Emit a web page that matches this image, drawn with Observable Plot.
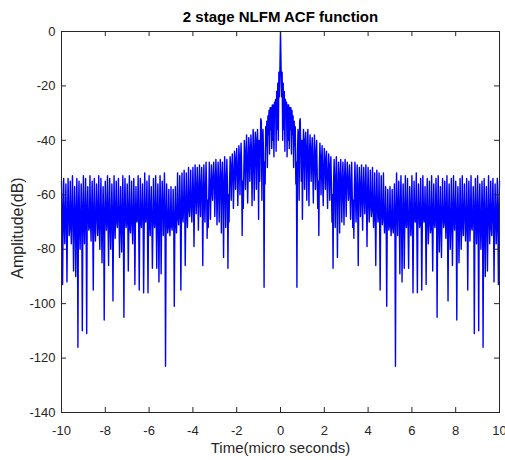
<!DOCTYPE html>
<html><head><meta charset="utf-8">
<script src="https://cdn.jsdelivr.net/npm/d3@7"></script>
<script src="https://cdn.jsdelivr.net/npm/@observablehq/plot@0.6"></script>
<style>
html,body{margin:0;padding:0;background:#fff;}
#chart svg{display:block;}
</style></head><body><div id="chart"></div>
<script>
const title = "2 stage NLFM ACF function";
const xLabel = "Time(micro seconds)";
const yLabel = "Amplitude(dB)";
const xTicks = [-10, -8, -6, -4, -2, 0, 2, 4, 6, 8, 10];
const yTicks = [-140, -120, -100, -80, -60, -40, -20, 0];
// sampling step of the lag axis (micro seconds); the ACF magnitude is symmetric in lag
const timeStep = 0.025;
// ACF amplitude (dB) for lags 0, 0.025, ..., 10 us (10 values per row)
const ampHalf = [
  0, -13, -24, -15, -40, -19, -36, -22, -44, -25,
  -30, -26, -46, -27, -40, -27, -43, -28, -36, -28,
  -45, -29, -38, -31, -50, -33, -42, -35, -56, -48,
  -94, -45, -36, -40, -62, -33, -32, -44, -55, -40,
  -69, -45, -36, -44, -58, -40, -37, -48, -62, -42,
  -36, -50, -64, -44, -38, -47, -55, -43, -39, -52,
  -63, -46, -38, -49, -58, -44, -40, -52, -65, -55,
  -75, -50, -41, -48, -60, -47, -42, -54, -64, -50,
  -43, -49, -58, -47, -44, -55, -65, -52, -45, -51,
  -62, -50, -46, -56, -70, -60, -87, -55, -47, -58,
  -72, -54, -46, -60, -83, -57, -48, -56, -74, -53,
  -47, -58, -70, -55, -48, -60, -71, -54, -47, -57,
  -68, -55, -48, -54, -62, -58, -49, -59, -69, -56,
  -48, -60, -72, -62, -76, -57, -48, -59, -70, -60,
  -49, -63, -86, -58, -50, -57, -68, -59, -49, -62,
  -73, -58, -50, -61, -67, -57, -49, -63, -79, -60,
  -50, -62, -70, -64, -51, -61, -68, -65, -50, -63,
  -72, -66, -52, -67, -86, -63, -51, -64, -70, -67,
  -52, -69, -95, -65, -53, -66, -71, -68, -52, -67,
  -74, -69, -57, -71, -101, -70, -58, -69, -73, -71,
  -57, -70, -75, -69, -58, -72, -74, -68, -56, -73,
  -123, -65, -52, -66, -75, -64, -55, -67, -89, -65,
  -53, -67, -92, -70, -56, -65, -87, -71, -53, -68,
  -72, -66, -54, -72, -87, -69, -57, -64, -75, -70,
  -53, -68, -96, -71, -55, -66, -70, -69, -52, -73,
  -96, -67, -56, -65, -72, -70, -54, -68, -95, -72,
  -53, -66, -70, -69, -57, -71, -93, -65, -54, -68,
  -78, -70, -55, -67, -74, -72, -53, -69, -88, -66,
  -56, -70, -72, -68, -54, -65, -105, -71, -53, -67,
  -81, -69, -57, -72, -83, -66, -54, -68, -72, -70,
  -55, -65, -76, -69, -53, -71, -99, -67, -56, -68,
  -80, -72, -54, -66, -86, -70, -53, -69, -73, -65,
  -55, -71, -106, -67, -57, -68, -85, -70, -54, -66,
  -80, -72, -53, -69, -75, -65, -56, -68, -77, -71,
  -54, -67, -95, -70, -55, -66, -77, -69, -53, -72,
  -73, -68, -57, -65, -111, -71, -54, -67, -78, -69,
  -53, -70, -110, -66, -56, -68, -80, -72, -55, -65,
  -116, -69, -54, -71, -90, -67, -57, -70, -88, -68,
  -53, -66, -78, -69, -55, -72, -75, -65, -54, -68,
  -92, -71, -56, -67, -78, -70, -54, -69, -93, -66,
  -55
];

const data = [];
for (let i = ampHalf.length - 1; i >= 1; i--) data.push({t: -i * timeStep, a: ampHalf[i]});
for (let i = 0; i < ampHalf.length; i++) data.push({t: i * timeStep, a: ampHalf[i]});

const W = 505, H = 460, mL = 61, mR = 6, mT = 31, mB = 48;
const fh = H - mT - mB, fw = W - mL - mR;
const tickLen = 5;
const axisColor = "#262626";
const font = "'Liberation Sans', Arial, Helvetica, sans-serif";
const fmt = d => String(d);

const chart = Plot.plot({
  width: W, height: H,
  marginLeft: mL, marginRight: mR, marginTop: mT, marginBottom: mB,
  style: {fontFamily: font, fontSize: "13px", background: "#fff", color: axisColor},
  x: {domain: [-10, 10]},
  y: {domain: [-140, 0]},
  marks: [
    Plot.line(data, {x: "t", y: "a", stroke: "#0000ff", strokeWidth: 1.4}),
    Plot.tickX(xTicks, {x: d => d, insetTop: fh - tickLen, stroke: axisColor}),
    Plot.tickX(xTicks, {x: d => d, insetBottom: fh - tickLen, stroke: axisColor}),
    Plot.tickY(yTicks, {y: d => d, insetRight: fw - tickLen, stroke: axisColor}),
    Plot.tickY(yTicks, {y: d => d, insetLeft: fw - tickLen, stroke: axisColor}),
    Plot.frame({stroke: axisColor}),
    Plot.axisX(xTicks, {tickSize: 0, tickPadding: 13, tickFormat: fmt, label: null, fill: axisColor}),
    Plot.axisY(yTicks, {tickSize: 0, tickPadding: 6, tickFormat: fmt, label: null, fill: axisColor}),
    Plot.text([title], {text: d => d, frameAnchor: "top", dy: -14, lineAnchor: "middle", fontWeight: "bold", fontSize: 15, fill: "#000"}),
    Plot.text([xLabel], {text: d => d, frameAnchor: "bottom", dy: 36, lineAnchor: "middle", fontSize: 15, fill: axisColor}),
    Plot.text([yLabel], {text: d => d, frameAnchor: "left", textAnchor: "middle", dx: -44, dy: 6, rotate: -90, lineAnchor: "middle", fontSize: 16, fill: axisColor})
  ]
});
document.getElementById("chart").appendChild(chart);
</script>
</body></html>
